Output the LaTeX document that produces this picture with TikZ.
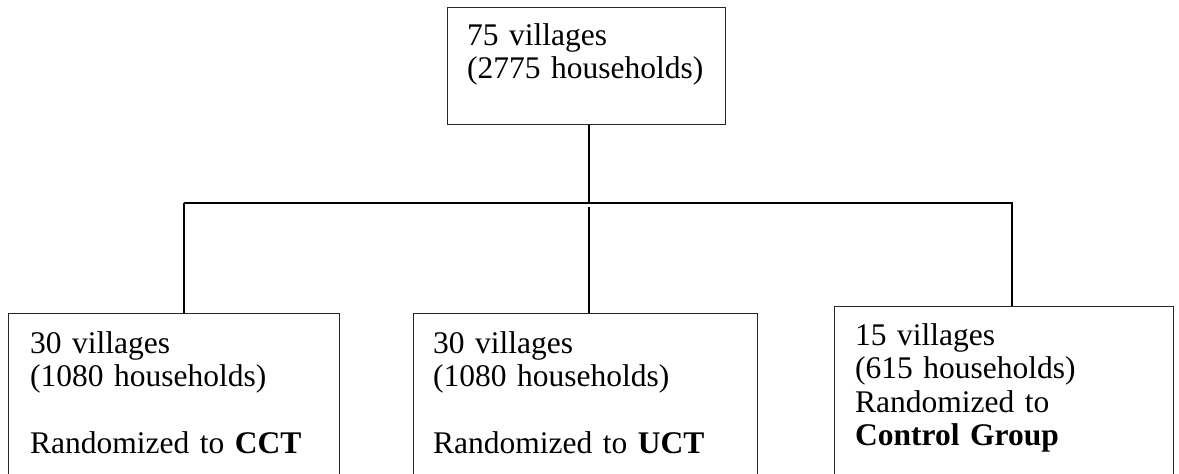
\documentclass[tikz,border=0pt]{standalone}
\usepackage{fontspec}
\setmainfont{Liberation Serif}
\begin{document}
\begin{tikzpicture}[x=1pt,y=-1pt,
  box/.style={draw=black!85, line width=1.2pt, anchor=north west, inner sep=0pt},
  txt/.style={anchor=base west, align=left, inner sep=0pt, text width=330pt,
    font=\fontsize{31.5}{33.5}\selectfont},
  conn/.style={line width=1.8pt, line cap=butt}]
\useasboundingbox (0,0) rectangle (1179,474);
\clip (0,0) rectangle (1179,474);
% boxes
\node[box, minimum width=278pt, minimum height=117pt] (top) at (447,7) {};
\node[box, minimum width=331pt, minimum height=200pt] (b1) at (8,313) {};
\node[box, minimum width=344pt, minimum height=200pt] (b2) at (413,313) {};
\node[box, minimum width=339pt, minimum height=200pt] (b3) at (834,306) {};
% texts
\node[txt] (ttop) at (467,45) {75 villages\\(2775 households)};
\node[txt] (t1) at (30,353) {30 villages\\(1080 households)\\[33.5pt]Randomized to \textbf{CCT}};
\node[txt] (t2) at (433,353) {30 villages\\(1080 households)\\[33.5pt]Randomized to \textbf{UCT}};
\node[txt] (t3) at (855,345) {15 villages\\(615 households)\\Randomized to\\\textbf{Control Group}};
% bus coordinates
\coordinate (busM) at (589,203);
\coordinate (busL) at (184,203);
\coordinate (busR) at (1013,203);
\coordinate (midS) at (589,207);
% connectors
\draw[conn] (busM |- top.south) -- (busM);
\draw[conn] (busL) -- (busR);
\draw[conn] (busL) -- (busL |- b1.north);
\draw[conn] (midS) -- (midS |- b2.north);
\draw[conn] ([xshift=-1pt]busR) -- ([xshift=-1pt]busR |- b3.north);
\end{tikzpicture}
\end{document}
